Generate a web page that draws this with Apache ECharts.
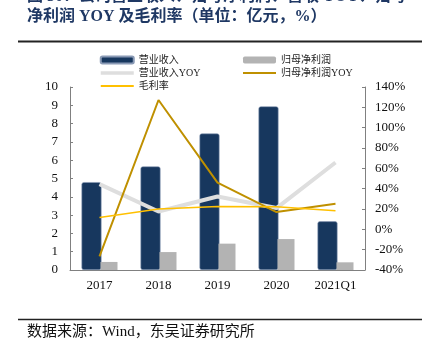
<!DOCTYPE html>
<html>
<head>
<meta charset="utf-8">
<script src="https://cdn.jsdelivr.net/npm/echarts@6/dist/echarts.min.js"></script>
<style>
  html, body { margin: 0; padding: 0; background: #fff; }
  #chart { width: 425px; height: 351px; }
</style>
</head>
<body>
<div id="chart"></div>
<script>
// values
const years = ['2017', '2018', '2019', '2020', '2021Q1'];
const revenue = [4.8, 5.66, 7.46, 8.94, 2.66];        // 亿元
const netProfit = [0.44, 0.98, 1.44, 1.69, 0.42];     // 亿元
const revenueYoy = [44.5, 17.5, 32.3, 20.9, 65.7];    // %
const profitYoy = [-26.6, 127.2, 46, 17, 25.1];       // %
const grossMargin = [11.7, 20, 22.5, 22.2, 18.2];     // %

const serif = '"Liberation Serif", "Noto Sans CJK SC", serif';
const navy = '#1f3864';

const myChart = echarts.init(document.getElementById('chart'));

const legendText = { fontFamily: serif, fontSize: 10, color: '#222' };
// hide the dot drawn on line legend icons
const noDot = { opacity: 0 };

const option = {
    animation: false,
    grid: { left: 70, right: 60, top: 87, bottom: 81 },
    graphic: [
        {
            type: 'text', left: 27, top: -11,
            style: {
                text: '图 30：公司营业收入、归母净利润、营收 YOY、归母',
                font: 'bold 16px "Liberation Serif", "Noto Sans CJK SC", serif', fill: navy
            }
        },
        {
            type: 'text', left: 27, top: 9,
            style: {
                text: '净利润 YOY 及毛利率（单位：亿元，%）',
                font: 'bold 16px "Liberation Serif", "Noto Sans CJK SC", serif', fill: navy
            }
        },
        {
            type: 'line', shape: { x1: 18, y1: 41.5, x2: 422, y2: 41.5 },
            style: { stroke: '#222', lineWidth: 2 }
        },
        {
            type: 'line', shape: { x1: 18, y1: 319.5, x2: 422, y2: 319.5 },
            style: { stroke: '#222', lineWidth: 1.5 }
        },
        {
            type: 'text', left: 27, top: 325,
            style: {
                text: '数据来源：Wind，东吴证券研究所',
                font: '15px "Liberation Serif", "Noto Sans CJK SC", serif', fill: '#111'
            }
        }
    ],
    legend: [
        {
            left: 94, top: 50, orient: 'vertical',
            itemWidth: 33, itemHeight: 7, itemGap: 3,
            textStyle: legendText,
            data: [
                '营业收入',
                { name: '营业收入YOY', itemStyle: noDot, lineStyle: { width: 3.5 } },
                { name: '毛利率', itemStyle: noDot, lineStyle: { width: 2 } }
            ]
        },
        {
            left: 237, top: 50, orient: 'vertical',
            itemWidth: 33, itemHeight: 7, itemGap: 3,
            textStyle: legendText,
            data: ['归母净利润', { name: '归母净利润YOY', itemStyle: noDot, lineStyle: { width: 2 } }]
        }
    ],
    xAxis: {
        type: 'category',
        data: years,
        axisLine: { lineStyle: { color: '#808080' } },
        axisTick: { inside: true, length: 3, lineStyle: { color: '#808080' } },
        axisLabel: { fontFamily: serif, fontSize: 13, color: '#111', margin: 9 }
    },
    yAxis: [
        {
            type: 'value', min: 0, max: 10, interval: 1,
            axisLine: { show: true, lineStyle: { color: '#808080' } },
            axisTick: { show: true, inside: true, length: 3, lineStyle: { color: '#808080' } },
            splitLine: { show: false },
            axisLabel: { fontFamily: serif, fontSize: 13, color: '#111', margin: 12 }
        },
        {
            type: 'value', min: -40, max: 140, interval: 20,
            axisLine: { show: true, lineStyle: { color: '#808080' } },
            axisTick: { show: true, inside: true, length: 3, lineStyle: { color: '#808080' } },
            splitLine: { show: false },
            axisLabel: { fontFamily: serif, fontSize: 13, color: '#111', margin: 10, formatter: '{value}%' }
        }
    ],
    series: [
        {
            name: '营业收入', type: 'bar', data: revenue,
            barWidth: 20, barGap: '-5%',
            itemStyle: { color: '#17375e', borderColor: '#8a9ab5', borderWidth: 0.6, borderRadius: 2 }
        },
        {
            name: '归母净利润', type: 'bar', data: netProfit,
            barWidth: 17,
            itemStyle: { color: '#b3b3b3' }
        },
        {
            name: '营业收入YOY', type: 'line', yAxisIndex: 1, data: revenueYoy,
            symbol: 'none', z: 3,
            lineStyle: { color: '#dedede', width: 4 },
            itemStyle: { color: '#dedede' }
        },
        {
            name: '归母净利润YOY', type: 'line', yAxisIndex: 1, data: profitYoy,
            symbol: 'none', z: 4,
            lineStyle: { color: '#bf9000', width: 2 },
            itemStyle: { color: '#bf9000' }
        },
        {
            name: '毛利率', type: 'line', yAxisIndex: 1, data: grossMargin,
            symbol: 'none', z: 5,
            lineStyle: { color: '#ffc000', width: 1.5 },
            itemStyle: { color: '#ffc000' }
        }
    ]
};

myChart.setOption(option);
</script>
</body>
</html>
